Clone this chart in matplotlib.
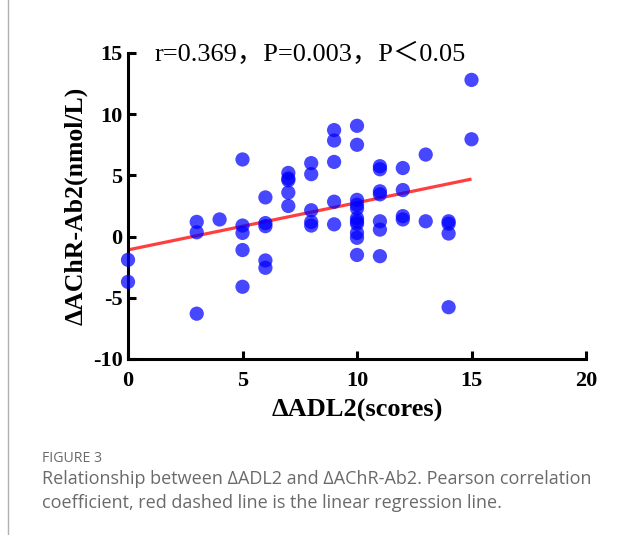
import numpy as np
import matplotlib

matplotlib.use("Agg")
import matplotlib.pyplot as plt

plt.rcParams["axes.unicode_minus"] = False

# delta ADL2 score and delta AChR-Ab2
adl = [0, 0,
       3, 3, 3,
       4,
       5, 5, 5, 5, 5,
       6, 6, 6, 6, 6,
       7, 7, 7, 7, 7,
       8, 8, 8, 8, 8,
       9, 9, 9, 9, 9,
       10, 10, 10, 10, 10, 10, 10, 10, 10, 10, 10,
       11, 11, 11, 11, 11, 11, 11,
       12, 12, 12, 12,
       13, 13,
       14, 14, 14, 14,
       15, 15]
achr = [-1.9, -3.7,
        1.2, 0.35, -6.3,
        1.4,
        6.3, 0.9, 0.3, -1.1, -4.1,
        3.2, 1.1, 0.85, -1.95, -2.55,
        5.2, 4.75, 4.6, 3.6, 2.5,
        6.0, 5.1, 2.15, 1.2, 0.9,
        8.7, 7.85, 6.1, 2.85, 1.0,
        9.05, 7.5, 3.0, 2.6, 2.3, 1.5, 1.25, 1.05, 0.3, -0.1, -1.5,
        5.75, 5.5, 3.7, 3.45, 1.25, 0.57, -1.6,
        5.6, 3.8, 1.67, 1.4,
        6.7, 1.25,
        1.25, 1.05, 0.25, -5.77,
        12.8, 7.95]

x_ticks = [0, 5, 10, 15, 20]
y_ticks = [-10, -5, 0, 5, 10, 15]
stats_text = "r=0.369，P=0.003，P＜0.05"

serif = ["Liberation Serif", "Noto Sans CJK SC", "DejaVu Serif"]

fig = plt.figure(figsize=(6.42, 5.35), dpi=100)
ax = fig.add_axes([0.1994, 0.329, 0.7134, 0.572])

ax.scatter(adl, achr, s=105, color="#0000ff", alpha=0.72, edgecolors="none",
           clip_on=False, zorder=3)

# regression line over the observed range
slope, intercept = np.polyfit(adl, achr, 1)
xs = np.array([min(adl), max(adl)])
ax.plot(xs, intercept + slope * xs, color="#ff2a2a", lw=2.3, alpha=0.9,
        solid_capstyle="butt", zorder=2)

ax.set_xlim(0, 20)
ax.set_ylim(-10, 15)
ax.set_xticks(x_ticks)
ax.set_yticks(y_ticks)
for side in ["top", "right"]:
    ax.spines[side].set_visible(False)
for side in ["left", "bottom"]:
    ax.spines[side].set_linewidth(2.2)
ax.tick_params(direction="in", length=6, width=2.2)
ax.tick_params(axis="y", pad=4)
ax.tick_params(axis="x", pad=9)
for lab in ax.get_xticklabels() + ax.get_yticklabels():
    lab.set_family(serif)
    lab.set_fontweight("bold")
    lab.set_fontsize(16)

ax.set_xlabel("ΔADL2(scores)", family=serif, fontweight="bold", fontsize=19, labelpad=5)
ax.set_ylabel("ΔAChR-Ab2(nmol/L)", family=serif, fontweight="bold", fontsize=18.5, labelpad=4)

ax.text(0.057, 0.995, stats_text, transform=ax.transAxes, family=serif,
        fontsize=19, va="center", ha="left")

# caption and page frame line
fig.add_artist(plt.Line2D([8 / 642, 8 / 642], [0, 1], color="#b0b0b0", lw=1))
fig.text(42 / 642, 1 - 458 / 535, "FIGURE 3", family="Open Sans", fontsize=10.2,
         color="#6a6a6a", va="center")
fig.text(42 / 642, 1 - 479 / 535, "Relationship between ΔADL2 and ΔAChR-Ab2. Pearson correlation",
         family="Open Sans", fontsize=13, color="#6a6a6a", va="center")
fig.text(42 / 642, 1 - 503 / 535, "coefficient, red dashed line is the linear regression line.",
         family="Open Sans", fontsize=13, color="#6a6a6a", va="center")

fig.savefig("out.png", dpi=100)
